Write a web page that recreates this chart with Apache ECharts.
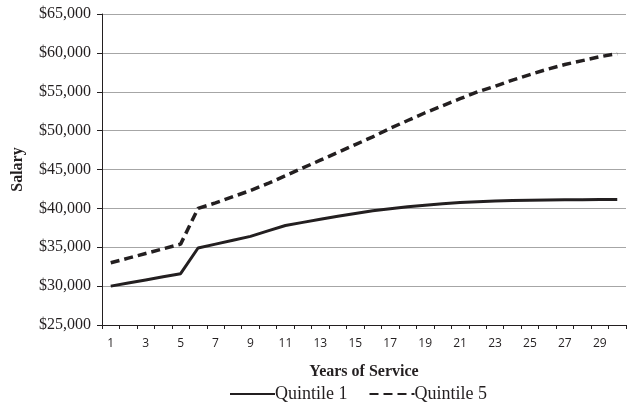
<!DOCTYPE html>
<html><head><meta charset="utf-8">
<script src="https://cdn.jsdelivr.net/npm/echarts@6/dist/echarts.min.js"></script>
<style>html,body{margin:0;padding:0;background:#fff}#c{width:629px;height:414px}</style>
</head><body><div id="c"></div>
<script>
const years = Array.from({length:30},(_, i) => String(i + 1));
const quintile1 = [30000,30400,30800,31200,31600,34900,35400,35900,36400,37100,37800,38200,38600,39000,39350,39700,39950,40200,40400,40600,40750,40850,40950,41000,41050,41080,41100,41120,41140,41150];
const quintile5 = [33000,33600,34200,34800,35400,40000,40700,41500,42300,43200,44200,45200,46200,47200,48200,49200,50300,51300,52300,53200,54100,55000,55700,56500,57200,57900,58500,59000,59500,59900];
const yMin = 25000, yMax = 65000, yStep = 5000;
const ink = '#231f20';
const serif = '"Liberation Serif","Times New Roman",serif';
const chart = echarts.init(document.getElementById('c'));
chart.setOption({
  animation:false,
  grid:{left:102,right:3,top:14,bottom:89},
  legend:{bottom:6,left:224,itemWidth:45,itemHeight:14,itemGap:21,
    itemStyle:{color:'rgba(0,0,0,0)',borderColor:'rgba(0,0,0,0)',borderWidth:0},
    textStyle:{fontFamily:serif,fontSize:18,color:ink,padding:[0,0,0,-5]},
    data:['Quintile 1','Quintile 5']},
  xAxis:{type:'category',data:years,boundaryGap:true,
    name:'Years of Service',nameLocation:'middle',nameGap:39,
    nameTextStyle:{fontFamily:serif,fontWeight:'bold',fontSize:16,color:ink},
    axisLine:{lineStyle:{color:ink,width:1}},
    axisTick:{show:true,interval:0,length:4,lineStyle:{color:ink}},
    axisLabel:{interval:1,fontFamily:'"Open Sans","Noto Sans",sans-serif',fontSize:12,color:ink,margin:13},
    splitLine:{show:false}},
  yAxis:{type:'value',min:yMin,max:yMax,interval:yStep,
    name:'Salary',nameLocation:'middle',nameGap:76,
    nameTextStyle:{fontFamily:serif,fontWeight:'bold',fontSize:16,color:ink},
    axisLine:{show:true,lineStyle:{color:ink,width:1}},
    axisTick:{show:true,length:5,lineStyle:{color:ink}},
    axisLabel:{fontFamily:serif,fontSize:16,color:ink,margin:11,
      formatter:v=>'$'+v.toLocaleString('en-US')},
    splitLine:{show:true,lineStyle:{color:'#a6a6a6',width:1}}},
  series:[
    {name:'Quintile 1',type:'line',data:quintile1,symbol:'none',
      lineStyle:{color:ink,width:3},itemStyle:{color:ink}},
    {name:'Quintile 5',type:'line',data:quintile5,symbol:'none',
      lineStyle:{color:ink,width:3.5,type:[9,5]},itemStyle:{color:ink}}
  ]
});
</script></body></html>
